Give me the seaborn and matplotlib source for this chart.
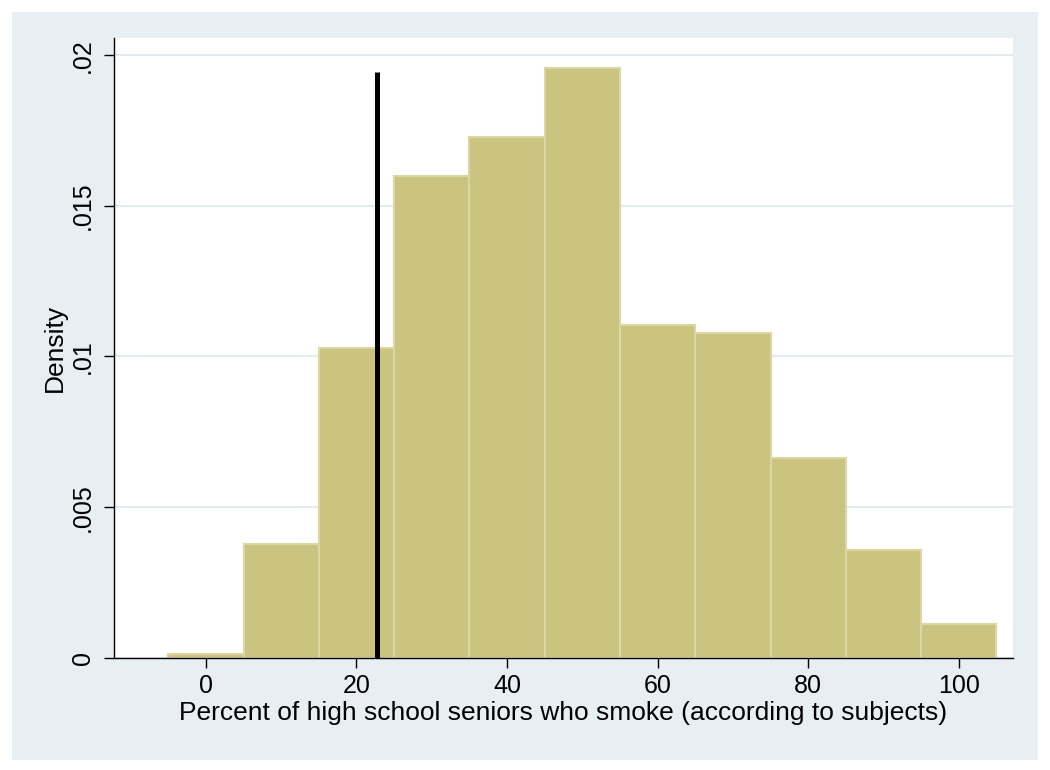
import numpy as np
import pandas as pd
import seaborn as sns
import matplotlib.pyplot as plt
from matplotlib.patches import Rectangle

# Histogram bins (percent) and densities
bin_edges = [-5, 5, 15, 25, 35, 45, 55, 65, 75, 85, 95, 105]
bin_mids = [0, 10, 20, 30, 40, 50, 60, 70, 80, 90, 100]
densities = [0.00012, 0.00377, 0.01027, 0.0160, 0.01729, 0.01956,
             0.01105, 0.01078, 0.00663, 0.00358, 0.00112]

# Reference line
ref_x = 22.7
ref_top = 0.01943

x_ticks = [0, 20, 40, 60, 80, 100]
y_ticks = [0, 0.005, 0.01, 0.015, 0.02]
y_ticklabels = ["0", ".005", ".01", ".015", ".02"]

df = pd.DataFrame({"pct": bin_mids, "density": densities})

sns.set_style("white")
plt.rcParams['font.family'] = ['Liberation Sans', 'DejaVu Sans']
plt.rcParams['text.color'] = 'black'
plt.rcParams['axes.labelcolor'] = 'black'
plt.rcParams['xtick.color'] = 'black'
plt.rcParams['ytick.color'] = 'black'

fig = plt.figure(figsize=(10.5, 7.7), dpi=100, facecolor="white")
# Stata-style outer panel
fig.patches.append(Rectangle((12 / 1050, 10 / 770), 1 - 24 / 1050, 1 - 22 / 770,
                             transform=fig.transFigure, facecolor="#e8eff2",
                             edgecolor="none", zorder=-10))

ax = fig.add_axes([114 / 1050, 1 - 657.8 / 770, (1013 - 114) / 1050, (657.8 - 38) / 770])
ax.set_facecolor("white")

sns.histplot(data=df, x="pct", weights="density", bins=bin_edges, stat="count",
             color="#cbc380", edgecolor="#dcd6a4", linewidth=1.5, alpha=1.0, ax=ax,
             zorder=2)

ax.vlines(ref_x, 0, ref_top, color="black", linewidth=3.6, zorder=3)

ax.set_xlim(-12.2, 107.2)
ax.set_ylim(0, 0.02057)
ax.set_xticks(x_ticks)
ax.set_yticks(y_ticks)
ax.set_yticklabels(y_ticklabels, rotation=90, va="center")

ax.grid(axis="y", color="#e2ecef", linewidth=1.5, zorder=0)
ax.grid(axis="x", visible=False)
ax.set_axisbelow(True)

for s in ["top", "right"]:
    ax.spines[s].set_visible(False)
for s in ["left", "bottom"]:
    ax.spines[s].set_color("black")
    ax.spines[s].set_linewidth(1.0)

ax.tick_params(axis="both", direction="out", length=7.5, width=1.0,
               labelsize=18, left=True, bottom=True)
ax.tick_params(axis="x", pad=4)
ax.tick_params(axis="y", pad=6)

ax.set_xlabel("Percent of high school seniors who smoke (according to subjects)",
              fontsize=19, labelpad=2)
ax.set_ylabel("Density", fontsize=19, labelpad=3)

fig.savefig("out.png", dpi=100, facecolor="white")
